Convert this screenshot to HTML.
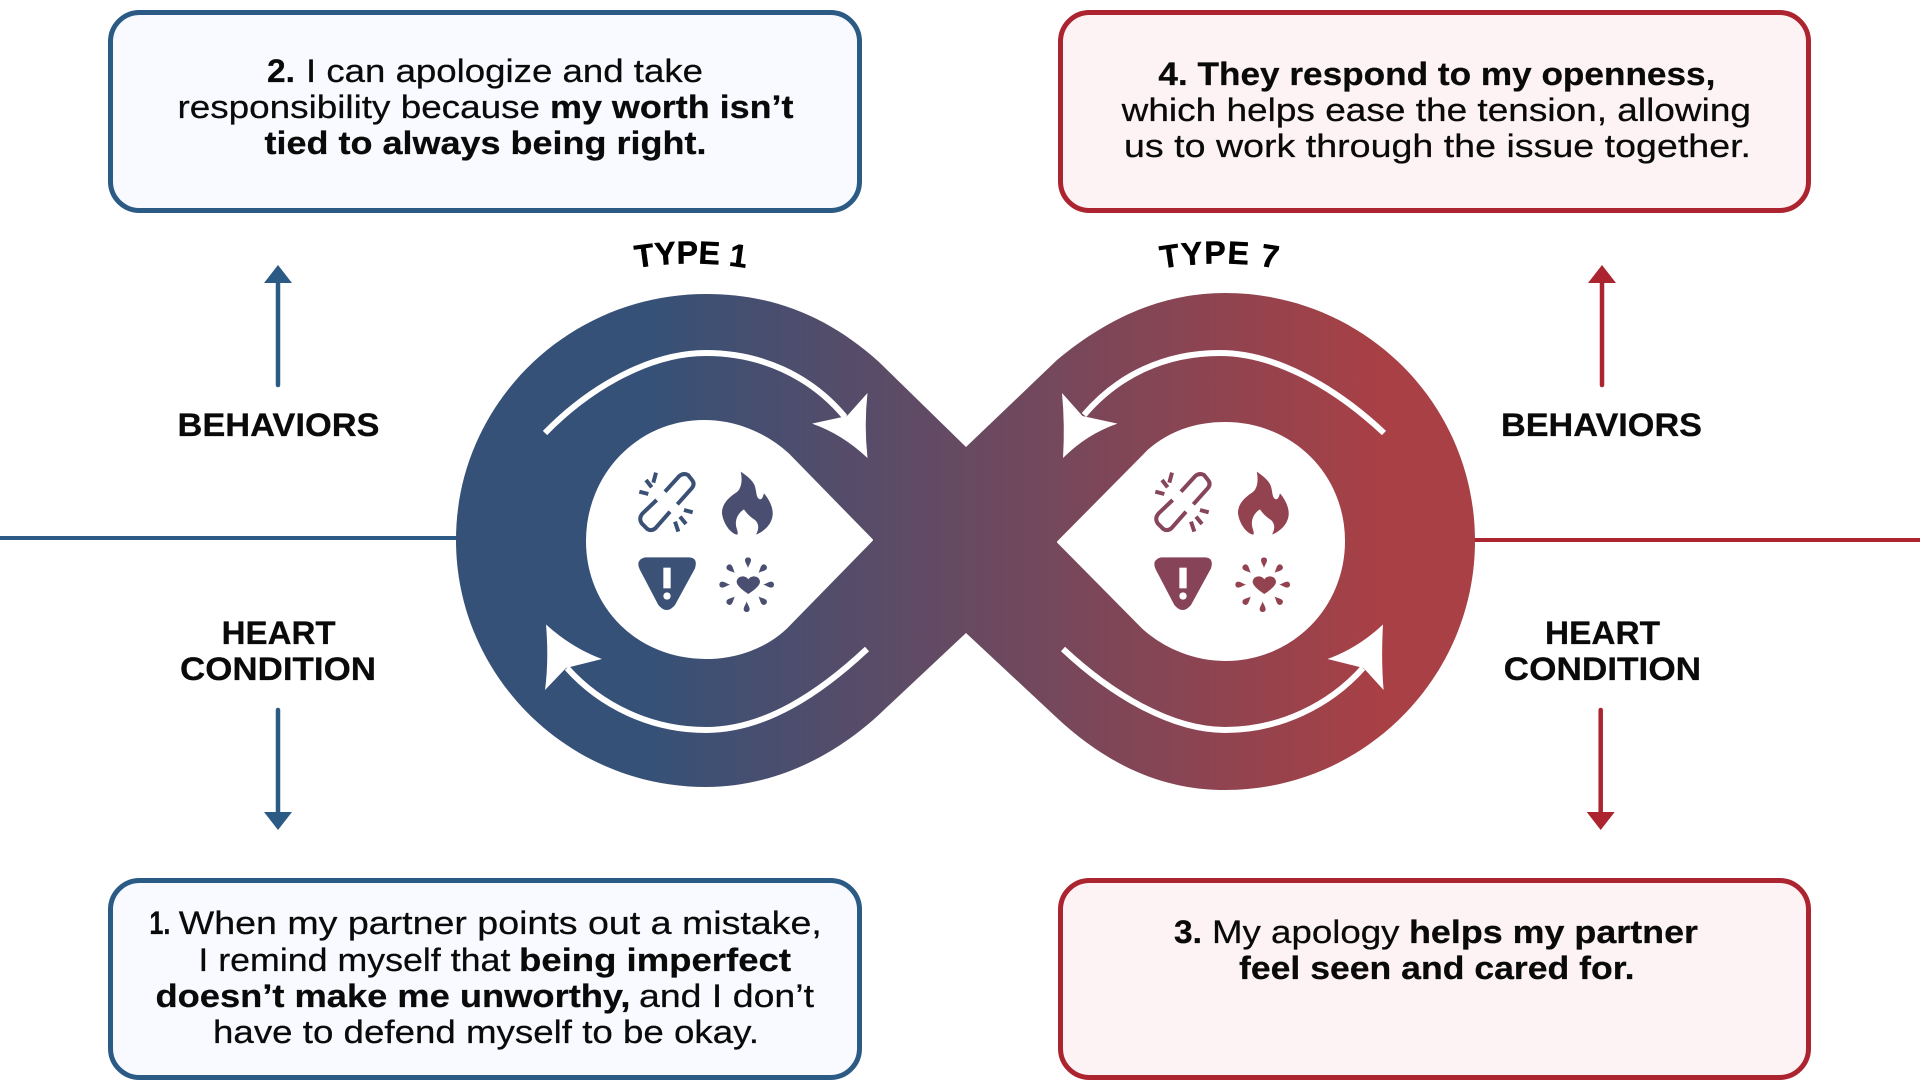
<!DOCTYPE html>
<html><head><meta charset="utf-8">
<style>
html,body{margin:0;padding:0;background:#fff;width:1920px;height:1080px;overflow:hidden}
svg{display:block}
text{font-family:"Liberation Sans",sans-serif;font-size:32.5px;fill:#0a0a0a;stroke:#0a0a0a;stroke-width:.25px}
.b{font-weight:700}
.l{font-weight:700;font-size:32px}
</style></head><body>
<svg width="1920" height="1080" viewBox="0 0 1920 1080" xmlns="http://www.w3.org/2000/svg">
<defs>
<linearGradient id="g" gradientUnits="userSpaceOnUse" x1="650" y1="0" x2="1385" y2="0">
<stop offset="0" stop-color="#365177"/><stop offset="1" stop-color="#a94045"/>
</linearGradient>
<path id="t1" d="M620,271 Q691,256 762,271"/>
<path id="t7" d="M1149,271 Q1220,256 1291,271"/>
<g id="chain" fill="none" stroke-width="12">
<path d="M135,95 L178,48 Q190,38 204,45 L216,60 Q226,72 215,85 L172,133"/>
<path d="M110,120 L68,160 Q55,175 65,190 L82,207 Q95,215 107,204 L150,155"/>
<path d="M108,38 L100,68 M78,60 L95,82 M58,95 L85,102 M192,150 L218,157 M180,170 L198,192 M165,185 L175,215"/>
</g>
<path id="flame" d="M362,35 C372,42 400,60 405,80 C410,95 408,115 420,118 C428,118 430,105 432,100 C445,115 460,140 458,165 C455,195 430,215 408,224 C415,210 420,195 405,180 C390,170 380,160 372,148 C355,158 342,180 350,205 C352,212 355,220 352,224 C330,220 310,190 306,160 C305,130 330,110 345,100 C365,90 368,60 362,35 Z"/>
<g id="warn">
<path d="M75,292 L205,292 Q235,292 225,325 L165,435 Q140,465 115,435 L60,330 Q45,300 75,292 Z"/>
<rect x="130" y="323" width="22" height="62" fill="#fff"/><circle cx="141" cy="408" r="11" fill="#fff"/>
</g>
<path id="drop" d="M0,-50 C2,-58 9,-66 9,-74 A9,8 0 0 0 -9,-74 C-9,-66 -2,-58 0,-50 Z"/>
<g id="burst">
<path d="M385,402 C370,392 350,378 350,365 C352,345 378,345 385,358 C392,345 418,345 420,365 C420,378 400,392 385,402 Z"/>
<g transform="translate(380,374)">
<use href="#drop" transform="translate(4,0)"/>
<use href="#drop" transform="rotate(45)"/>
<use href="#drop" transform="rotate(90)"/>
<use href="#drop" transform="rotate(135)"/>
<use href="#drop" transform="rotate(180)"/>
<use href="#drop" transform="rotate(225)"/>
<use href="#drop" transform="rotate(270)"/>
<use href="#drop" transform="rotate(315)"/>
</g>
</g>
</defs>

<!-- horizontal lines -->
<line x1="0" y1="538" x2="470" y2="538" stroke="#2b5a85" stroke-width="4"/>
<line x1="1465" y1="540" x2="1920" y2="540" stroke="#ab2430" stroke-width="4"/>

<!-- boxes -->
<rect x="110.5" y="12.5" width="749" height="198" rx="29" fill="#f8faff" stroke="#2b5a85" stroke-width="5"/>
<rect x="1060.5" y="12.5" width="748" height="198" rx="29" fill="#fdf3f4" stroke="#ab2430" stroke-width="5"/>
<rect x="110.5" y="880.5" width="749" height="197" rx="29" fill="#f8faff" stroke="#2b5a85" stroke-width="5"/>
<rect x="1060.5" y="880.5" width="748" height="197" rx="29" fill="#fdf3f4" stroke="#ab2430" stroke-width="5"/>

<!-- box text -->
<text class="b" x="267" y="82" textLength="28" lengthAdjust="spacingAndGlyphs">2.</text>
<text x="306" y="82" textLength="397" lengthAdjust="spacingAndGlyphs">I can apologize and take</text>
<text x="177.5" y="118" textLength="362.5" lengthAdjust="spacingAndGlyphs">responsibility because</text>
<text class="b" x="550" y="118" textLength="243.5" lengthAdjust="spacingAndGlyphs">my worth isn’t</text>
<text class="b" x="264.5" y="154" textLength="442" lengthAdjust="spacingAndGlyphs">tied to always being right.</text>

<text class="b" x="1158.4" y="85" textLength="557" lengthAdjust="spacingAndGlyphs">4. They respond to my openness,</text>
<text x="1121.6" y="121" textLength="629.4" lengthAdjust="spacingAndGlyphs">which helps ease the tension, allowing</text>
<text x="1124" y="157" textLength="627" lengthAdjust="spacingAndGlyphs">us to work through the issue together.</text>

<text class="b" x="149.4" y="934" textLength="21" lengthAdjust="spacingAndGlyphs">1.</text>
<text x="178.8" y="934" textLength="643" lengthAdjust="spacingAndGlyphs">When my partner points out a mistake,</text>
<text x="198.4" y="971" textLength="312" lengthAdjust="spacingAndGlyphs">I remind myself that</text>
<text class="b" x="519" y="971" textLength="272" lengthAdjust="spacingAndGlyphs">being imperfect</text>
<text class="b" x="155.5" y="1007" textLength="475" lengthAdjust="spacingAndGlyphs">doesn’t make me unworthy,</text>
<text x="639" y="1007" textLength="175" lengthAdjust="spacingAndGlyphs">and I don’t</text>
<text x="213" y="1043" textLength="546" lengthAdjust="spacingAndGlyphs">have to defend myself to be okay.</text>

<text class="b" x="1174" y="943" textLength="28" lengthAdjust="spacingAndGlyphs">3.</text>
<text x="1212" y="943" textLength="187.5" lengthAdjust="spacingAndGlyphs">My apology</text>
<text class="b" x="1409" y="943" textLength="289" lengthAdjust="spacingAndGlyphs">helps my partner</text>
<text class="b" x="1239" y="979" textLength="395.5" lengthAdjust="spacingAndGlyphs">feel seen and cared for.</text>

<!-- labels -->
<text class="l" x="177.5" y="436" textLength="202" lengthAdjust="spacingAndGlyphs">BEHAVIORS</text>
<text class="l" x="221.6" y="644" textLength="114" lengthAdjust="spacingAndGlyphs">HEART</text>
<text class="l" x="180" y="680" textLength="196" lengthAdjust="spacingAndGlyphs">CONDITION</text>
<text class="l" x="1501" y="436" textLength="201" lengthAdjust="spacingAndGlyphs">BEHAVIORS</text>
<text class="l" x="1545" y="644" textLength="115" lengthAdjust="spacingAndGlyphs">HEART</text>
<text class="l" x="1503.7" y="680" textLength="197.4" lengthAdjust="spacingAndGlyphs">CONDITION</text>

<!-- vertical arrows -->
<g stroke-width="4.5" stroke-linecap="round">
<line x1="278" y1="385" x2="278" y2="280" stroke="#2b5a85"/>
<line x1="278" y1="710" x2="278" y2="815" stroke="#2b5a85"/>
<line x1="1602" y1="385" x2="1602" y2="280" stroke="#ab2430"/>
<line x1="1600.7" y1="710" x2="1600.7" y2="815" stroke="#ab2430"/>
</g>
<path d="M278,265 L292,283 L264,283 Z" fill="#2b5a85"/>
<path d="M278,830 L292,812 L264,812 Z" fill="#2b5a85"/>
<path d="M1602,265 L1616,283 L1588,283 Z" fill="#ab2430"/>
<path d="M1600.7,830 L1614.7,812 L1586.7,812 Z" fill="#ab2430"/>

<!-- infinity -->
<path fill="url(#g)" d="M706,294 C568,294 456,404 456,540 C456,676 568,787 706,787 C775,787 838,755 886,708 L966,633 L1056,717 C1105,763 1160,790 1225,790 C1363,790 1475,678 1475,541 C1475,403 1363,293 1225,293 C1160,293 1105,320 1057,360 L966,447 L879,362 C830,318 775,294 706,294 Z"/>
<path fill="#fff" stroke="#fff" stroke-width="2" stroke-linejoin="round" d="M872,540 L788,454 C765,433 735,421 704,421 C638,421 587,475 587,541 C587,607 638,658 706,658 C735,658 765,648 786,628 Z"/>
<path fill="#fff" stroke="#fff" stroke-width="2" stroke-linejoin="round" d="M1058,542 L1149,450 C1170,432 1195,423 1225,423 C1292,423 1344,475 1344,541 C1344,607 1292,660 1225,660 C1195,660 1165,648 1143,628 Z"/>

<!-- white curved arrows -->
<g fill="none" stroke="#fff" stroke-width="6">
<path d="M545,433 C590,387 650,353 706,353 C760,353 810,375 845,417"/>
<path d="M867,649 C820,693 765,730 706,730 C650,730 600,705 567,668"/>
<path d="M1384,433 C1335,387 1275,353 1220,353 C1165,353 1118,375 1084,415"/>
<path d="M1063,649 C1110,693 1170,730 1225,730 C1280,730 1330,705 1363,668"/>
</g>
<g fill="#fff">
<path d="M867.5,393 L847,416 L812,423.6 Q842,434 867.5,458 Q864,425 867.5,393 Z"/>
<path d="M546,624.5 Q549,660 545,690 L566,668 L602,659 Q572,648 546,624.5 Z"/>
<path d="M1062,393 L1082.5,416 L1117.5,423.6 Q1087,434 1063,458 Q1065,425 1062,393 Z"/>
<path d="M1383,624.5 Q1381,660 1383.6,690 L1363.6,668 L1327.5,659 Q1358,648 1383,624.5 Z"/>
</g>

<!-- icons left -->
<g transform="translate(620,460) scale(.33333)">
<use href="#chain" stroke="#3a5175"/>
<use href="#flame" fill="#4a4e71"/>
<use href="#warn" fill="#3c5176"/>
<use href="#burst" fill="#4a4e71"/>
</g>
<!-- icons right -->
<g transform="translate(1136,460) scale(.33333)">
<use href="#chain" stroke="#86455a"/>
<use href="#flame" fill="#934350"/>
<use href="#warn" fill="#874459"/>
<use href="#burst" fill="#934350"/>
</g>

<!-- TYPE labels -->
<text class="b" style="font-size:32px;fill:#000;stroke:#000;stroke-width:.5px" text-anchor="middle"><textPath href="#t1" startOffset="50%">TYPE 1</textPath></text>
<text class="b" style="font-size:32px;fill:#000;stroke:#000;stroke-width:.5px;letter-spacing:1.2px" text-anchor="middle"><textPath href="#t7" startOffset="50%">TYPE 7</textPath></text>
</svg>
</body></html>
